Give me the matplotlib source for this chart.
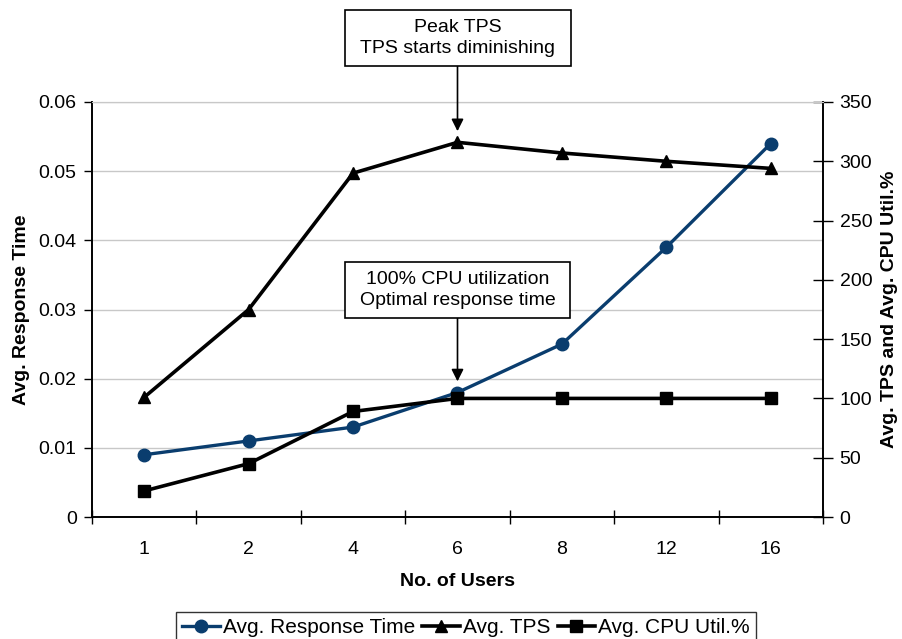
import matplotlib
matplotlib.use("Agg")
import matplotlib.pyplot as plt
from matplotlib.patches import Rectangle

plt.rcParams['font.family'] = ['Liberation Sans', 'DejaVu Sans']

users = ['1', '2', '4', '6', '8', '12', '16']
resp_time = [0.009, 0.011, 0.013, 0.018, 0.025, 0.039, 0.054]
tps = [101, 175, 290, 316, 307, 300, 294]
cpu = [22, 45, 89, 100, 100, 100, 100]

left_ticks = [0, 0.01, 0.02, 0.03, 0.04, 0.05, 0.06]
left_labels = ['0', '0.01', '0.02', '0.03', '0.04', '0.05', '0.06']
right_ticks = [0, 50, 100, 150, 200, 250, 300, 350]

W, H = 903, 639
fig = plt.figure(figsize=(W / 100, H / 100), dpi=100)
ax = fig.add_axes([92 / W, 1 - 517 / H, (823 - 92) / W, (517 - 102) / H])
ax2 = ax.twinx()

FS = 14
BLUE = '#0a3d6e'
x = list(range(len(users)))

ax.plot(x, resp_time, color=BLUE, lw=2.4, marker='o', ms=9, zorder=3,
        label='Avg. Response Time')
ax2.plot(x, tps, color='black', lw=2.6, marker='^', ms=9, zorder=3,
         label='Avg. TPS')
ax2.plot(x, cpu, color='black', lw=2.6, marker='s', ms=8, zorder=3,
         label='Avg. CPU Util.%')

ax.set_xlim(-0.5, len(users) - 0.5)
ax.set_ylim(0, 0.06)
ax2.set_ylim(0, 350)

ax.set_yticks(left_ticks)
ax.set_yticklabels(left_labels, fontsize=FS)
ax2.set_yticks(right_ticks)
ax2.set_yticklabels([str(t) for t in right_ticks], fontsize=FS)

ax.set_xticks([i - 0.5 for i in range(len(users) + 1)])
ax.set_xticklabels([])
ax.set_xticks(x, minor=True)
ax.set_xticklabels(users, minor=True, fontsize=FS)
ax.tick_params(axis='x', which='major', direction='inout', length=10, width=1)
ax.tick_params(axis='x', which='minor', length=0, pad=17)
ax.tick_params(axis='y', direction='out', length=6, width=1, pad=5)
ax2.tick_params(axis='y', direction='inout', length=14, width=1, pad=5)

ax.grid(axis='y', color='#c8c8c8', lw=1)
ax.set_axisbelow(True)
for a in (ax, ax2):
    a.spines['top'].set_color('#c8c8c8')
    for s in ('left', 'right', 'bottom'):
        a.spines[s].set_color('black')
        a.spines[s].set_linewidth(1.2)

ax.set_ylabel('Avg. Response Time', fontsize=FS, fontweight='bold', labelpad=6)
ax2.set_ylabel('Avg. TPS and Avg. CPU Util.%', fontsize=FS, fontweight='bold', labelpad=6)
ax.set_xlabel('No. of Users', fontsize=FS, fontweight='bold', labelpad=11)


def box(x0, y0, x1, y1, lines):
    fig.patches.append(Rectangle((x0 / W, 1 - y1 / H), (x1 - x0) / W, (y1 - y0) / H,
                                 transform=fig.transFigure, fill=True, facecolor='white',
                                 edgecolor='black', lw=1.2, zorder=5))
    fig.text((x0 + x1) / 2 / W, 1 - (y0 + y1) / 2 / H, '\n'.join(lines),
             ha='center', va='center', fontsize=FS, linespacing=1.35, zorder=6)


box(345, 10, 571, 66, ['Peak TPS', 'TPS starts diminishing'])
box(345, 262, 570, 318, ['100% CPU utilization', 'Optimal response time'])

peak = tps.index(max(tps))
ax2.annotate('', xy=(peak, tps[peak]), xycoords='data',
             xytext=(457.5, H - 66), textcoords='figure pixels',
             arrowprops=dict(arrowstyle='-|>', color='black', lw=1.2,
                             mutation_scale=18, shrinkA=0, shrinkB=8),
             annotation_clip=False)
opt = 3
ax.annotate('', xy=(opt, resp_time[opt]), xycoords='data',
            xytext=(457.5, H - 318), textcoords='figure pixels',
            arrowprops=dict(arrowstyle='-|>', color='black', lw=1.2,
                            mutation_scale=18, shrinkA=0, shrinkB=8),
            annotation_clip=False)

handles = ax.get_lines()[:1] + ax2.get_lines()[:2]
leg = fig.legend(handles, [h.get_label() for h in handles],
                 loc='upper center', bbox_to_anchor=(466 / W, 1 - 612 / H),
                 ncol=3, fontsize=15, frameon=True, fancybox=False,
                 edgecolor='black', handlelength=1.8, handletextpad=0.15,
                 columnspacing=0.35, borderpad=0.3, borderaxespad=0)
leg.get_frame().set_linewidth(1.0)

fig.savefig('out.png', dpi=100)
